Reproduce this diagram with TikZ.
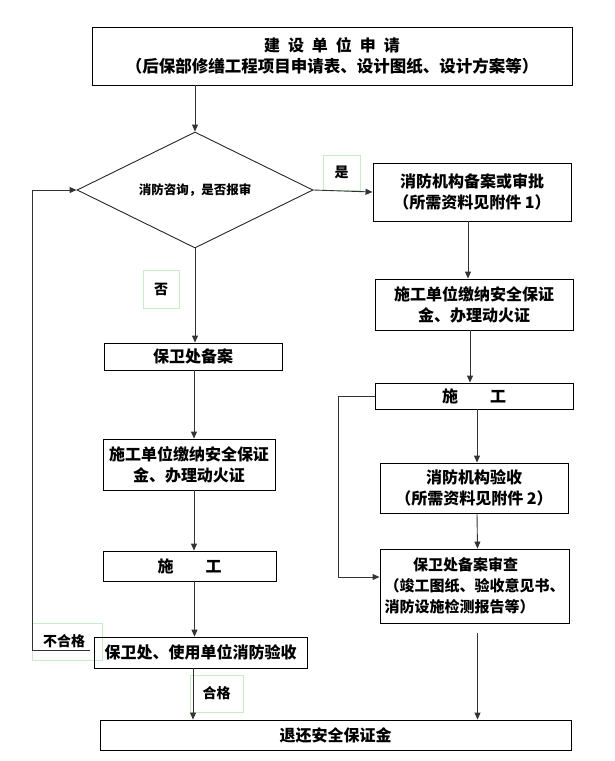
\documentclass[tikz,border=0pt]{standalone}
\usepackage{fontspec}
\newfontfamily\cjk{Noto Sans CJK SC}
\usetikzlibrary{shapes.geometric,arrows.meta,calc}
\begin{document}
\begin{tikzpicture}[x=1pt,y=-1pt,
  box/.style={draw=black,line width=0.9pt,inner sep=0pt,align=center,
    font=\cjk\bfseries\fontsize{16}{21}\selectfont},
  lab/.style={draw={rgb,255:red,200;green,236;blue,200},line width=0.8pt,inner sep=0pt,
    font=\cjk\bfseries\fontsize{14}{16}\selectfont},
  arr/.style={draw=black!80,line width=0.9pt,-{Triangle[length=7pt,width=6pt]}},
  ln/.style={draw=black!80,line width=0.9pt}]
\useasboundingbox (0,0) rectangle (614,761);
% label boxes (drawn first)
\node[lab,minimum width=37,minimum height=35] (yes) at (341.5,172.5) {是};
\node[lab,minimum width=36,minimum height=38] (no) at (161,289) {否};
\node[lab,minimum width=70,minimum height=37] (fail) at (67,641.5) {\raisebox{3pt}{不合格\hspace{6pt}}};
\node[lab,minimum width=53,minimum height=37] (pass) at (216.5,693.5) {\raisebox{3pt}{合格}};
% boxes
\node[box,minimum width=480,minimum height=58] (top) at (332,56)
  {建\hspace{0.5em}设\hspace{0.5em}单\hspace{0.5em}位\hspace{0.5em}申\hspace{0.5em}请\\
   {\fontsize{16.5}{20}\selectfont （后保部修缮工程项目申请表、设计图纸、设计方案等）}};
\node[diamond,draw=black!85,line width=0.9pt,minimum width=236,minimum height=116,
  inner sep=0pt,shape aspect=2.03,font=\cjk\bfseries\fontsize{12.5}{14}\selectfont] (d) at (195,190)
  {消防咨询，是否报审};
\node[box,minimum width=198,minimum height=58] (r1) at (472,192)
  {消防机构备案或审批\\（所需资料见附件 1）};
\node[box,minimum width=198,minimum height=51] (r2) at (474,304.5)
  {施工单位缴纳安全保证\\金、办理动火证};
\node[box,minimum width=198,minimum height=26] (r3) at (474,396)
  {施\hspace{2em}工};
\node[box,minimum width=188,minimum height=50] (r4) at (474,488)
  {消防机构验收\\（所需资料见附件 2）};
\node[box,minimum width=189,minimum height=74,align=left,font=\cjk\bfseries\fontsize{15}{21}\selectfont] (r5) at (474.5,586)
  {\hspace*{1.9em}保卫处备案审查\\（竣工图纸、验收意见书、\\消防设施检测报告等）};
\node[box,minimum width=178,minimum height=27] (l1) at (193,356.5) {保卫处备案};
\node[box,minimum width=172,minimum height=51] (l2) at (189,464.5)
  {施工单位缴纳安全保证\\金、办理动火证};
\node[box,minimum width=173,minimum height=30] (l3) at (189.5,566) {施\hspace{2em}工};
\node[box,minimum width=213,minimum height=31] (l4) at (200.5,652.5) {保卫处、使用单位消防验收};
\node[box,minimum width=471,minimum height=30] (b) at (335.5,735) {退还安全保证金};
% connectors
\draw[arr] (d.north |- top.south) -- (d.north);
\draw[arr] (d.east) -- (r1.west);
\draw[arr] ($(r1.south)+(-4,0)$) -- ($(r2.north)+(-6,0)$);
\draw[arr] ($(r2.south)+(-4,0)$) -- ($(r3.north)+(-4,0)$);
\draw[arr] ($(r3.south)+(3,0)$) -- ($(r4.north)+(3,0)$);
\draw[arr] ($(r4.south)+(3,0)$) -- ($(r5.north)+(3,0)$);
\draw[arr] (r3.west) -- ++(-36,0) |- ($(r5.west)+(0,-9)$);
\draw[arr] ($(r5.south)+(3,10)$) -- ($(r5.south |- b.north)+(3,0)$);
\draw[arr] (d.south) -- (d.south |- l1.north);
\draw[arr] ($(l1.south)+(1,0)$) -- ($(l1.south |- l2.north)+(1,0)$);
\draw[arr] ($(l2.south)+(5,0)$) -- ($(l2.south |- l3.north)+(5,0)$);
\draw[arr] ($(l3.south)+(5,0)$) -- ($(l3.south |- l4.north)+(5,0)$);
\draw[arr] ($(l1.south |- l4.south)$) -- (l1.south |- b.north);
\draw[arr] ($(l4.west)+(-4,-2)$) -- ++(-57,0) |- (d.west);
\end{tikzpicture}
\end{document}
